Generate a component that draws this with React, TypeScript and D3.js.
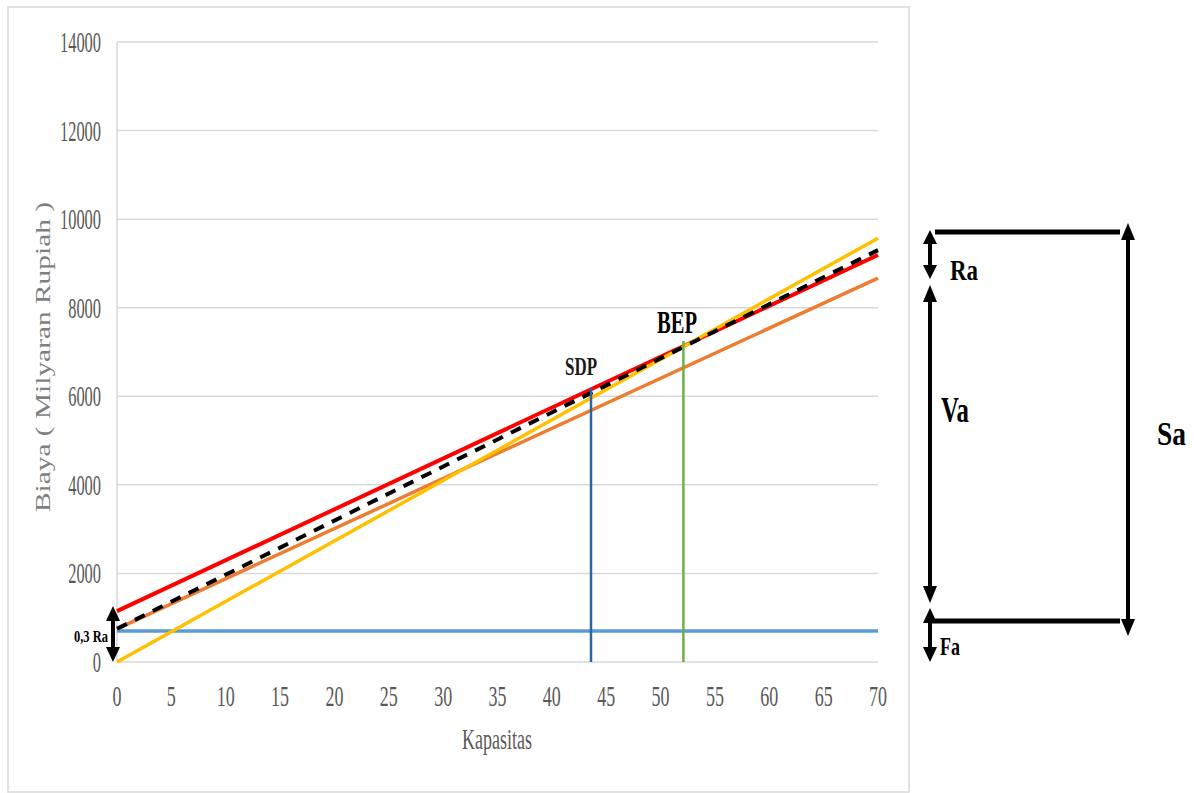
import React from "react";
import * as d3 from "d3";

// ---- data ----
const kapasitas = [0, 70];
const fixedCost = [700, 700]; // blue horizontal
const orangeLine = [750, 8670];
const redLine = [1150, 9190];
const yellowLine = [0, 9570];
const dashedLine = [750, 9300];
const sdp = { x: 43.6, y: 6190, label: "SDP" };
const bep = { x: 52.1, y: 7250, label: "BEP" };
const yTicks = [0, 2000, 4000, 6000, 8000, 10000, 12000, 14000];
const xTicks = [0, 5, 10, 15, 20, 25, 30, 35, 40, 45, 50, 55, 60, 65, 70];

const W = 1194;
const H = 793;
const x = d3.scaleLinear().domain([0, 70]).range([117, 878]);
const y = d3.scaleLinear().domain([0, 14000]).range([662, 42]);

const serif = "'Liberation Serif', 'Times New Roman', serif";

function T(props: any) {
  const { x, y, children, size, len, anchor = "start", weight = "normal", fill = "#595959", transform } = props;
  return (
    <text
      x={x}
      y={y}
      fontFamily={serif}
      fontSize={size}
      fontWeight={weight}
      fill={fill}
      textAnchor={anchor}
      textLength={len}
      lengthAdjust="spacingAndGlyphs"
      transform={transform}
    >
      {children}
    </text>
  );
}

function DoubleArrow({ cx, y1, y2, hw = 6, hl = 13, sw = 3.5 }: any) {
  return (
    <g fill="#000" stroke="none">
      <line x1={cx} x2={cx} y1={y1 + hl - 2} y2={y2 - hl + 2} stroke="#000" strokeWidth={sw} />
      <path d={`M${cx},${y1} L${cx - hw},${y1 + hl} L${cx + hw},${y1 + hl} Z`} />
      <path d={`M${cx},${y2} L${cx - hw},${y2 - hl} L${cx + hw},${y2 - hl} Z`} />
    </g>
  );
}

export default function App() {
  const line = (vals: number[]) =>
    d3.line<number>().x((_, i) => x(kapasitas[i])).y((v) => y(v))(vals) as string;

  return (
    <svg width={W} height={H} style={{ position: "absolute", left: 0, top: 0, background: "#fff" }}>
      <rect x={8} y={7} width={901} height={785} fill="#fff" stroke="#d9d9d9" strokeWidth={1.5} />
      {/* gridlines */}
      {yTicks.map((t) => (
        <line key={t} x1={x(0)} x2={x(70)} y1={y(t)} y2={y(t)} stroke="#d9d9d9" strokeWidth={1.5} />
      ))}
      <line x1={x(0)} x2={x(0)} y1={y(14000)} y2={y(0)} stroke="#d9d9d9" strokeWidth={1.5} />
      {/* y tick labels */}
      {yTicks.map((t) => (
        <T key={t} x={101} y={y(t) + 10} size={30} len={String(t).length * 8.2} anchor="end">
          {String(t)}
        </T>
      ))}
      {/* x tick labels */}
      {xTicks.map((t) => (
        <T key={t} x={x(t)} y={706} size={30} len={String(t).length * 9} anchor="middle">
          {String(t)}
        </T>
      ))}
      <T x={497} y={749} size={30} len={70} anchor="middle">Kapasitas</T>
      <T x={0} y={0} size={21} len={310} anchor="middle" fill="#7f7f7f" transform="translate(50,357) rotate(-90)">
        Biaya ( Milyaran Rupiah )
      </T>

      {/* series */}
      <path d={line(fixedCost)} stroke="#5b9bd5" strokeWidth={3.5} fill="none" />
      <path d={line(orangeLine)} stroke="#ed7d31" strokeWidth={3.5} fill="none" />
      <path d={line(redLine)} stroke="#ff0000" strokeWidth={4} fill="none" />
      <path d={line(yellowLine)} stroke="#ffc000" strokeWidth={3.5} fill="none" />
      <path d={line(dashedLine)} stroke="#000" strokeWidth={4} strokeDasharray="11 9" fill="none" />

      {/* SDP / BEP verticals */}
      <line x1={x(sdp.x)} x2={x(sdp.x)} y1={y(0)} y2={y(sdp.y)} stroke="#2e64a0" strokeWidth={2.5} />
      <line x1={x(bep.x)} x2={x(bep.x)} y1={y(0)} y2={y(bep.y)} stroke="#70ad47" strokeWidth={2.5} />
      <T x={565} y={375} size={25} len={32} weight="bold" fill="#1a1a1a">{sdp.label}</T>
      <T x={657} y={333} size={31} len={40} weight="bold" fill="#000">{bep.label}</T>

      {/* 0,3 Ra marker */}
      <DoubleArrow cx={113} y1={606} y2={662} hw={7} hl={15} sw={4} />
      <T x={74} y={642} size={17} len={34} weight="bold" fill="#000">0,3 Ra</T>

      {/* right schematic */}
      <line x1={935} x2={1120} y1={232} y2={232} stroke="#000" strokeWidth={5} />
      <line x1={932} x2={1120} y1={621} y2={621} stroke="#000" strokeWidth={5} />
      <DoubleArrow cx={1128} y1={223} y2={636} hw={7} hl={17} sw={4} />
      <DoubleArrow cx={930} y1={230} y2={279} hw={7} hl={14} sw={4} />
      <DoubleArrow cx={930} y1={285} y2={603} hw={7} hl={17} sw={4} />
      <DoubleArrow cx={930} y1={608} y2={662} hw={7} hl={15} sw={4} />
      <T x={950} y={280} size={30} len={28} weight="bold" fill="#000">Ra</T>
      <T x={941} y={422} size={36} len={28} weight="bold" fill="#000">Va</T>
      <T x={1157} y={445} size={33} len={29} weight="bold" fill="#000">Sa</T>
      <T x={940} y={655} size={25} len={20} weight="bold" fill="#000">Fa</T>
    </svg>
  );
}
